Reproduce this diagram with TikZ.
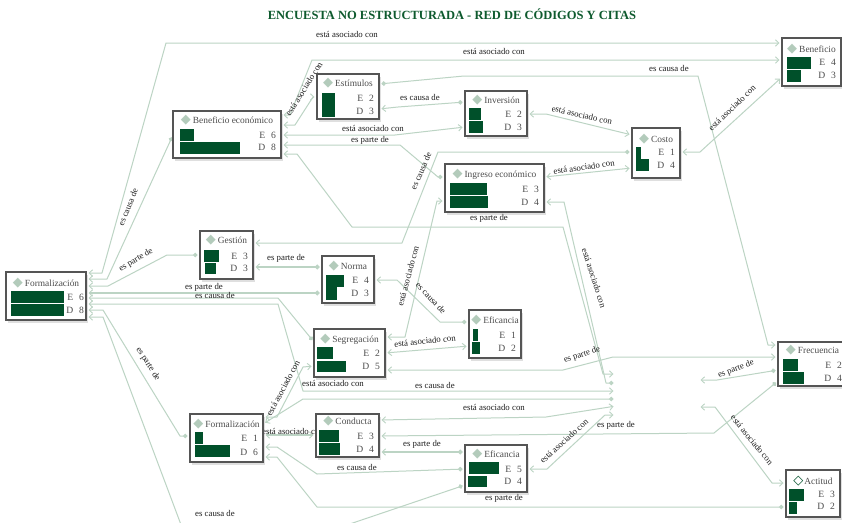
\documentclass[tikz,border=0pt]{standalone}
\usepackage{fontspec}
\setmainfont{Liberation Serif}
\newfontfamily\symfont{DejaVu Sans}
\usetikzlibrary{arrows.meta,shadows}
\definecolor{lk}{HTML}{BCD4C4}
\definecolor{barc}{HTML}{00502A}
\definecolor{dia}{HTML}{B3CBBB}
\definecolor{ttlc}{HTML}{0E5A2E}
\definecolor{bd}{HTML}{555555}
\definecolor{txg}{HTML}{4D4D4D}
\definecolor{lbc}{HTML}{1E1E1E}
\pgfdeclarelayer{back}
\pgfdeclarelayer{bg}
\pgfsetlayers{back,bg,main}
\newcommand\dm{{\fontsize{13}{13}\symfont\color{dia}\char"25C6}\hspace{2pt}}
\newcommand\dmo{{\fontsize{13}{13}\symfont\color{barc}\char"25C7}\hspace{1pt}}
\newcommand\cbx[7]{%
  \pgfmathsetmacro\bw{#4-#2}\pgfmathsetmacro\bh{#5-#3}%
  \pgfmathsetmacro\cx{(#2+#4)/2}\pgfmathsetmacro\cy{(#3+#5)/2}%
  \node[cbox, minimum width=\bw pt, minimum height=\bh pt] (#1) at (\cx,\cy) {};
  \node[ttlt, anchor=base] (#1-t) at (\cx,#7+3.4) {#6};}
\newcommand\crw[6]{%
  \node[rowt, anchor=base east] (#1-e) at (#2-5,#3+3.4) {E\hspace{6pt}#5};
  \node[rowt, anchor=base east] (#1-d) at (#2-5,#4+3.4) {D\hspace{6pt}#6};}
\begin{document}
\begin{tikzpicture}[x=1pt,y=-1pt,
  every node/.style={inner sep=0pt, outer sep=0pt},
  cbox/.style={draw=bd, line width=1.1pt, fill=white, rectangle,
    drop shadow={opacity=0.25, shadow xshift=2pt, shadow yshift=-2.5pt}},
  ttlt/.style={text=txg, font=\fontsize{9.4}{10}\selectfont},
  rowt/.style={text=txg, font=\fontsize{9.6}{10}\selectfont},
  lbl/.style={text=lbc, font=\fontsize{8.8}{10}\selectfont},
  lnk/.style={draw=lk, line width=1pt, line join=round, shorten <=2.5pt, shorten >=2.5pt},
  thk/.style={line width=1.8pt},
  lkA/.tip={Straight Barb[length=3.5pt,width=6.5pt,line width=0.9pt]},
  lkD/.tip={Circle[length=4.5pt]}]
\useasboundingbox (0,0) rectangle (842,522);
\begin{pgfonlayer}{back}
\fill[white] (0,0) rectangle (842,522);
\end{pgfonlayer}
\node[font=\bfseries\fontsize{12.5}{14}\selectfont, text=ttlc] (title) at (452,14) {ENCUESTA NO ESTRUCTURADA - RED DE CÓDIGOS Y CITAS};

% ---------- boxes ----------
\cbx{benec}{173}{111}{281}{158}{\dm Beneficio económico}{120}
\crw{benec}{281}{135}{147}{6}{8}
\fill[barc] (180,129) rectangle (194,141); \fill[barc] (180,142) rectangle (240,154);

\cbx{estim}{317}{74}{379}{119}{\dm Estímulos}{83}
\crw{estim}{379}{98}{111}{2}{3}
\fill[barc] (322,93) rectangle (335,105); \fill[barc] (322,105) rectangle (335,117);

\cbx{inver}{465}{91}{527}{136}{\dm Inversión}{100}
\crw{inver}{527}{114}{127}{2}{3}
\fill[barc] (469,108) rectangle (481,120); \fill[barc] (469,121) rectangle (483,133);

\cbx{costo}{632}{128}{680}{178}{\dm Costo}{139}
\crw{costo}{680}{152}{165}{1}{4}
\fill[barc] (636,147) rectangle (641,171); \fill[barc] (636,159) rectangle (649,171);

\cbx{benef}{782}{38}{841}{86}{\dm Beneficio}{49}
\crw{benef}{841}{62}{75}{4}{3}
\fill[barc] (787,57) rectangle (811,69); \fill[barc] (787,70) rectangle (801,82);

\cbx{ingr}{445}{164}{544}{212}{\dm Ingreso económico}{174}
\crw{ingr}{544}{189}{202}{3}{4}
\fill[barc] (450,183) rectangle (487,195); \fill[barc] (450,196) rectangle (488,208);

\cbx{gest}{200}{231}{253}{279}{\dm Gestión}{240}
\crw{gest}{253}{256}{268}{3}{3}
\fill[barc] (204,250) rectangle (219,262); \fill[barc] (205,263) rectangle (216,274);

\cbx{norma}{322}{256}{374}{303}{\dm Norma}{266}
\crw{norma}{374}{280}{293}{4}{3}
\fill[barc] (326,275) rectangle (344,287); \fill[barc] (326,287) rectangle (337,300);

\cbx{formA}{6}{272}{86}{320}{\dm Formalización}{283}
\crw{formA}{89}{297}{310}{6}{8}
\fill[barc] (11,291) rectangle (64,303); \fill[barc] (11,304) rectangle (64,316);

\cbx{efiA}{469}{310}{521}{358}{\dm Eficancia}{320}
\crw{efiA}{521}{335}{348}{1}{2}
\fill[barc] (473,329) rectangle (478,341); \fill[barc] (472,342) rectangle (480,354);

\cbx{segr}{314}{329}{385}{377}{\dm Segregación}{339}
\crw{segr}{385}{353}{366}{2}{5}
\fill[barc] (317,347) rectangle (333,359); \fill[barc] (317,361) rectangle (346,372);

\cbx{formB}{190}{414}{263}{462}{\dm Formalización}{424}
\crw{formB}{263}{438}{452}{1}{6}
\fill[barc] (195,432) rectangle (203,444); \fill[barc] (195,445) rectangle (230,457);

\cbx{cond}{316}{414}{379}{457}{\dm Conducta}{421}
\crw{cond}{379}{436}{449}{3}{4}
\fill[barc] (319,430) rectangle (339,442); \fill[barc] (319,443) rectangle (340,455);

\cbx{efiB}{465}{445}{527}{492}{\dm Eficancia}{454}
\crw{efiB}{527}{469}{481}{5}{4}
\fill[barc] (469,462) rectangle (499,474); \fill[barc] (468,476) rectangle (487,487);

\cbx{frec}{778}{342}{847}{386}{\dm Frecuencia}{350}
\crw{frec}{847}{365}{378}{2}{4}
\fill[barc] (783,359) rectangle (798,371); \fill[barc] (783,372) rectangle (804,384);

\cbx{actit}{786}{470}{840}{517}{\dmo Actitud}{481}
\crw{actit}{840}{494}{506}{3}{2}
\fill[barc] (789,489) rectangle (804,501); \fill[barc] (789,502) rectangle (797,514);

% free ends
\coordinate (h1) at (616,374);
\coordinate (h2) at (616,383);
\coordinate (h3) at (616,391);
\coordinate (h4) at (616,399);
\coordinate (h5) at (616,406);
\coordinate (h6) at (616,415);
\coordinate (h7) at (698,380);
\coordinate (h8) at (698,407);

\begin{pgfonlayer}{bg}
% ---------- links ----------
\draw[lnk,lkA-lkA] (formA.east |- 0,273) -- (102,273) -- (166,43) -- (benef.west |- 0,43);
\draw[lnk,lkD-lkA] (benec.west |- 0,135) -- (107,279) -- (formA.east |- 0,279);
\draw[lnk,lkD-lkA] (gest.west |- 0,255) -- (167,255) -- (108,286) -- (formA.east |- 0,286);
\draw[lnk,thk,lkD-lkA] (norma.west |- 0,293) -- (formA.east |- 0,293);
\draw[lnk,lkD-lkA] (segr.west |- 0,342) -- (278,298) -- (formA.east |- 0,298);
\draw[lnk,lkA-lkA] (formA.east |- 0,304) -- (278,304) -- (303,391) -- (h3);
\draw[lnk,lkA-lkD] (formA.east |- 0,310) -- (103,310) -- (180,436) -- (formB.west |- 0,436);
\draw[lnk,lkA-lkD] (formA.east |- 0,317) -- (103,317) -- (183,530) -- (332,530) -- (efiB.west |- 0,485);
\draw[lnk,lkA-lkA] (benec.east |- 0,115) -- (290,115) -- (312,60) -- (benef.west |- 0,60);
\draw[lnk,lkA-lkA] (benec.east |- 0,125) -- (295,125) -- (313,97) -- (estim.west |- 0,97);
\draw[lnk,lkA-lkA] (benec.east |- 0,135) -- (395,135) -- (inver.west |- 0,127);
\draw[lnk,lkA-lkD] (benec.east |- 0,145) -- (400,145) -- (438,177) -- (ingr.west |- 0,177);
\draw[lnk,lkA-lkA] (benec.east |- 0,154) -- (297,154) -- (352,227) -- (563,227) -- (603,374) -- (h1);
\draw[lnk,lkA-lkD] (ingr.east |- 0,202) -- (564,202) -- (606,383) -- (h2);
\draw[lnk,lkD-lkA] (estim.east |- 0,84) -- (464,76) -- (698,76) -- (768,345) -- (frec.west |- 0,345);
\draw[lnk,lkD-lkA] (inver.west |- 0,102) -- (398,107) -- (estim.east |- 0,109);
\draw[lnk,lkA-lkA] (inver.east |- 0,114) -- (546,114) -- (costo.west |- 0,135);
\draw[lnk,lkD-lkA] (costo.west |- 0,152) -- (438,152) -- (402,243) -- (gest.east |- 0,243);
\draw[lnk,lkA-lkA] (ingr.east |- 0,177) -- (costo.west |- 0,168);
\draw[lnk,lkA-lkA] (costo.east |- 0,152) -- (700,152) -- (benef.west |- 0,77);
\draw[lnk,lkA-lkA] (segr.east |- 0,337) -- (405,337) -- (437,201) -- (ingr.west |- 0,201);
\draw[lnk,lkD-lkA] (efiA.west |- 0,322) -- (440,322) -- (397,280) -- (norma.east |- 0,280);
\draw[lnk,thk,lkD-lkA] (norma.west |- 0,267) -- (gest.east |- 0,267);
\draw[lnk,lkA-lkA] (segr.east |- 0,353) -- (efiA.west |- 0,346);
\draw[lnk,lkA-lkA] (segr.east |- 0,370) -- (563,370) -- (613,357) -- (frec.west |- 0,357);
\draw[lnk,lkA-lkA] (formB.east |- 0,417) -- (277,417) -- (303,367) -- (segr.west |- 0,366);
\draw[lnk,lkA-lkD] (formB.east |- 0,424) -- (303,399) -- (h4);
\draw[lnk,thk,lkA-lkA] (formB.east |- 0,435) -- (cond.west |- 0,435);
\draw[lnk,lkD-lkA] (efiB.west |- 0,469) -- (317,474) -- (277,447) -- (formB.east |- 0,447);
\draw[lnk,lkD-lkA] (actit.west |- 0,507) -- (317,507) -- (277,457) -- (formB.east |- 0,457);
\draw[lnk,lkA-lkA] (cond.east |- 0,420) -- (546,417) -- (h5);
\draw[lnk,lkA-lkD] (cond.east |- 0,436) -- (714,433) -- (frec.west |- 0,381);
\draw[lnk,thk,lkA-lkD] (cond.east |- 0,452) -- (efiB.west |- 0,452);
\draw[lnk,lkA-lkA] (efiB.east |- 0,469) -- (547,469) -- (605,415) -- (h6);
\draw[lnk,lkD-lkA] (frec.west |- 0,370) -- (717,380) -- (h7);
\draw[lnk,lkA-lkA] (actit.west |- 0,483) -- (772,483) -- (715,407) -- (h8);

% ---------- labels ----------
\node[lbl] (l1) at (347,34) {está asociado con};
\node[lbl] (l2) at (494,51) {está asociado con};
\node[lbl] (l3) at (669,68) {es causa de};
\node[lbl,rotate=58] (l4) at (304,89) {está asociado con};
\node[lbl] (l5) at (420,97) {es causa de};
\node[lbl] (l6) at (373,128) {está asociado con};
\node[lbl] (l7) at (370,140) {es parte de};
\node[lbl,rotate=-13] (l8) at (582,115) {está asociado con};
\node[lbl,rotate=8] (l9) at (584,167) {está asociado con};
\node[lbl,rotate=44] (l10) at (732,108) {está asociado con};
\node[lbl,rotate=66] (l11) at (421,171) {es causa de};
\node[lbl] (l12) at (489,218) {es parte de};
\node[lbl,rotate=68] (l13) at (128,207) {es causa de};
\node[lbl,rotate=30] (l14) at (136,260) {es parte de};
\node[lbl] (l15) at (286,258) {es parte de};
\node[lbl] (l16) at (204,287) {es parte de};
\node[lbl] (l17) at (215,295) {es causa de};
\node[lbl,rotate=75] (l18) at (408,276) {está asociado con};
\node[lbl,rotate=-72] (l19) at (594,278) {está asociado con};
\node[lbl,rotate=-47] (l20) at (431,298) {es causa de};
\node[lbl,rotate=6] (l21) at (425,341) {está asociado con};
\node[lbl,rotate=18] (l22) at (582,355) {es parte de};
\node[lbl,rotate=-58] (l23) at (148,364) {es parte de};
\node[lbl] (l24) at (333,383) {está asociado con};
\node[lbl] (l25) at (435,385) {es causa de};
\node[lbl,rotate=62] (l26) at (283,388) {está asociado con};
\node[lbl] (l27) at (494,407) {está asociado con};
\node[lbl] (l28) at (293,431) {está asociado con};
\node[lbl] (l29) at (422,444) {es parte de};
\node[lbl] (l30) at (616,425) {es parte de};
\node[lbl] (l31) at (357,467) {es causa de};
\node[lbl] (l32) at (504,498) {es parte de};
\node[lbl,rotate=42] (l33) at (564,441) {está asociado con};
\node[lbl,rotate=20] (l34) at (736,369) {es parte de};
\node[lbl,rotate=-51] (l35) at (752,440) {está asociado con};
\node[lbl] (l36) at (215,513) {es causa de};
\end{pgfonlayer}
\end{tikzpicture}
\end{document}
